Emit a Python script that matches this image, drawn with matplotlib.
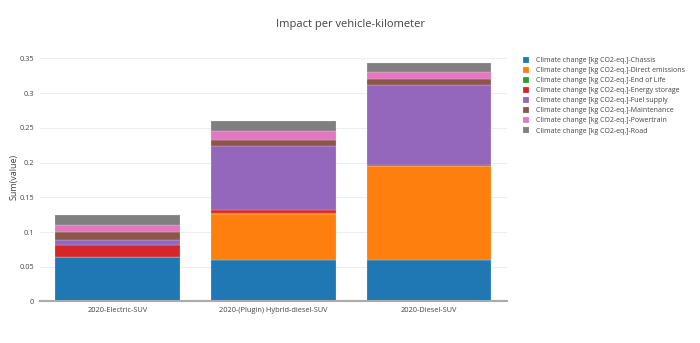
import numpy as np
import matplotlib.pyplot as plt

plt.rcParams['font.family'] = ['Open Sans', 'DejaVu Sans']

vehicles = ['2020-Electric-SUV', '2020-(Plugin) Hybrid-diesel-SUV', '2020-Diesel-SUV']

prefix = 'Climate change [kg CO2-eq.]-'
stages = ['Chassis', 'Direct emissions', 'End of Life', 'Energy storage',
          'Fuel supply', 'Maintenance', 'Powertrain', 'Road']

chassis = [0.0636, 0.0597, 0.0597]
direct_emissions = [0.0, 0.0667, 0.1353]
end_of_life = [0.0003, 0.0003, 0.0003]
energy_storage = [0.0174, 0.0050, 0.0010]
fuel_supply = [0.0072, 0.0916, 0.1160]
maintenance = [0.0110, 0.0087, 0.0087]
powertrain = [0.0100, 0.0138, 0.0095]
road = [0.0150, 0.0139, 0.0130]

series = [chassis, direct_emissions, end_of_life, energy_storage,
          fuel_supply, maintenance, powertrain, road]
colors = ['#1f77b4', '#ff7f0e', '#2ca02c', '#d62728',
          '#9467bd', '#8c564b', '#e377c2', '#7f7f7f']

fig = plt.figure(figsize=(7, 3.43), dpi=100)
ax = fig.add_axes([0.057, 0.121, 0.667, 0.729])

x = np.arange(len(vehicles))
bottom = np.zeros(len(vehicles))
for name, vals, c in zip(stages, series, colors):
    ax.bar(x, vals, 0.8, bottom=bottom, color=c, label=prefix + name,
           edgecolor='#f4f4f4', linewidth=0.15)
    bottom += np.array(vals)

ax.set_xlim(-0.5, 2.5)
ax.set_ylim(0, 0.36)
ax.set_xticks(x)
ax.set_xticklabels(vehicles)
ax.set_yticks(np.arange(0, 0.351, 0.05))
ax.set_yticklabels(['0', '0.05', '0.1', '0.15', '0.2', '0.25', '0.3', '0.35'])
ax.tick_params(length=0, labelsize=5.3, colors='#444444', pad=4)
ax.grid(axis='y', color='#eeeeee', linewidth=0.8)
ax.set_axisbelow(True)
for s in ['top', 'right', 'left']:
    ax.spines[s].set_visible(False)
ax.spines['bottom'].set_color('#aaaaaa')
ax.spines['bottom'].set_linewidth(1.5)
ax.set_ylabel('Sum(value)', fontsize=6.5, color='#444444', labelpad=1)

fig.suptitle('Impact per vehicle-kilometer', x=0.5, y=0.945,
             fontsize=8, color='#444444')

ax.legend(loc='upper left', bbox_to_anchor=(1.026, 0.995), frameon=False,
          fontsize=5.0, labelcolor='#444444', handlelength=0.9, handleheight=0.9,
          handletextpad=1.0, labelspacing=0.4, borderaxespad=0.2)

fig.savefig('out.png', dpi=100)
